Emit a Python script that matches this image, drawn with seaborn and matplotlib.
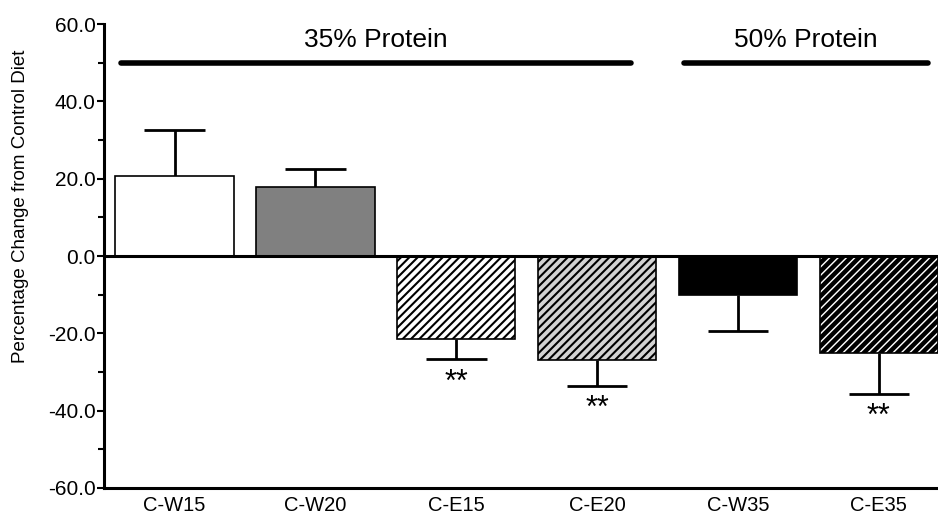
import numpy as np
import pandas as pd
import matplotlib
matplotlib.use("Agg")
import matplotlib.pyplot as plt
import seaborn as sns

sns.set_style("ticks", {'axes.edgecolor': 'black', 'text.color': 'black',
                        'xtick.color': 'black', 'ytick.color': 'black',
                        'axes.labelcolor': 'black'})
plt.rcParams['font.family'] = ['Liberation Sans', 'DejaVu Sans']
plt.rcParams['hatch.linewidth'] = 1.5

# data
diets = ['C-W15', 'C-W20', 'C-E15', 'C-E20', 'C-W35', 'C-E35']
change = [20.8, 17.8, -21.5, -27.0, -10.1, -25.2]
sem = [11.7, 4.8, 5.2, 6.6, 9.4, 10.4]
signif = ['', '', '**', '**', '', '**']
fills = ['white', '#808080', 'white', '#d3d3d3', 'black', 'white']
hatches = ['', '', '////', '////', '', '////']
groups = ['35% Protein', '50% Protein']
group_first = [0, 4]
group_last = [3, 5]

df = pd.DataFrame({'diet': diets, 'change': change})

fig = plt.figure(figsize=(9.38, 5.23), dpi=100)
ax = fig.add_axes([0.111, 0.067, 0.889, 0.887])

sns.barplot(data=df, x='diet', y='change', hue='diet', palette=fills,
            edgecolor='black', linewidth=1.2, width=0.84, legend=False,
            errorbar=None, ax=ax, zorder=2)

for i, p in enumerate(ax.patches[:len(diets)]):
    p.set_hatch(hatches[i])
    if diets[i] == 'C-E35' and hasattr(p, 'set_hatch_linewidth'):
        p.set_hatch_linewidth(3.2)

# one-sided error bars, pointing away from zero
x = np.arange(len(diets))
tips = [v + e if v > 0 else v - e for v, e in zip(change, sem)]
ax.vlines(x, change, tips, color='black', lw=2, zorder=1)
ax.hlines(tips, x - 0.215, x + 0.215, color='black', lw=2, zorder=1)

for i, s in enumerate(signif):
    if s:
        ax.text(i, tips[i] - 6.0, s, ha='center', va='center',
                fontsize=22)

# protein group bars
end_pad = [0.24, 0.35]
for g, a, b, pad in zip(groups, group_first, group_last, end_pad):
    ax.plot([a - 0.38, b + pad], [50, 50], color='black', lw=4,
            solid_capstyle='round')
    ax.text((a - 0.38 + b + pad) / 2, 56, g, ha='center', va='center',
            fontsize=19)

ax.axhline(0, color='black', lw=2.2, zorder=3)

ax.set_ylim(-60, 60)
ax.set_xlim(-0.5, 5.42)
ax.set_yticks(np.arange(-60, 61, 20))
ax.set_yticks(np.arange(-50, 51, 20), minor=True)
ax.set_yticklabels([f'{v:.1f}' for v in np.arange(-60, 61, 20)], fontsize=15)
ax.tick_params(axis='y', which='major', length=5, width=1.5, pad=1)
ax.tick_params(axis='y', which='minor', length=4, width=1.5)
ax.tick_params(axis='x', length=0, labelsize=14.5, pad=6)
ax.set_xlabel('')
ax.set_ylabel('Percentage Change from Control Diet', fontsize=13.5)
ax.yaxis.set_label_coords(-0.09, 0.608)

sns.despine(ax=ax)
for side in ['left', 'bottom']:
    ax.spines[side].set_linewidth(2.2)

fig.savefig('out.png', dpi=100)
